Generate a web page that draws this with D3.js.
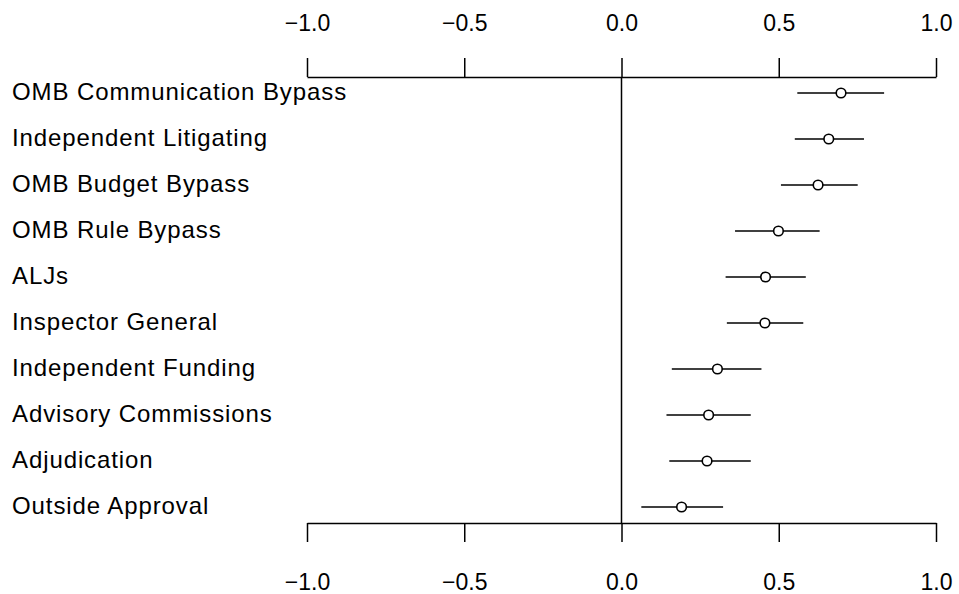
<!DOCTYPE html>
<html>
<head>
<meta charset="utf-8">
<style>
  body { margin: 0; background: #fff; }
  svg text { font-family: "Liberation Sans", Arial, Helvetica, sans-serif; fill: #000; }
</style>
</head>
<body>
<svg id="chart" width="959" height="594"></svg>
<script src="https://cdn.jsdelivr.net/npm/d3@7/dist/d3.min.js"></script>
<script>

var categories = ["OMB Communication Bypass", "Independent Litigating", "OMB Budget Bypass",
    "OMB Rule Bypass", "ALJs", "Inspector General", "Independent Funding",
    "Advisory Commissions", "Adjudication", "Outside Approval"];
var estimates = [0.698, 0.659, 0.625, 0.499, 0.458, 0.456, 0.305, 0.277, 0.272, 0.191];
var lower = [0.559, 0.551, 0.507, 0.361, 0.331, 0.335, 0.160, 0.143, 0.152, 0.063];
var upper = [0.835, 0.771, 0.751, 0.630, 0.586, 0.578, 0.445, 0.411, 0.411, 0.323];
var tickValues = [-1, -0.5, 0, 0.5, 1];

var svg = d3.select('#chart');

var x = d3.scaleLinear().domain([-1, 1]).range([307, 936]);
var y = d3.scalePoint().domain(categories).range([93, 507]);

var axisTopY = 77, axisBottomY = 523;

var data = categories.map(function(c, i){
    return {name: c, est: estimates[i], lo: lower[i], hi: upper[i]};
});

// reference line at zero
svg.append('line')
    .attr('x1', x(0)).attr('x2', x(0))
    .attr('y1', axisTopY).attr('y2', axisBottomY)
    .style('stroke', 'black')
    .style('stroke-width', 1.5);

var topAxis = svg.append('g')
    .attr('transform', 'translate(0,' + axisTopY + ')')
    .call(d3.axisTop(x).tickValues(tickValues).tickSize(19).tickSizeOuter(0)
        .tickPadding(27).tickFormat(d3.format('.1f')));

var bottomAxis = svg.append('g')
    .attr('transform', 'translate(0,' + axisBottomY + ')')
    .call(d3.axisBottom(x).tickValues(tickValues).tickSize(19).tickSizeOuter(0)
        .tickPadding(48).tickFormat(d3.format('.1f')));
bottomAxis.selectAll('text').attr('dy', '0em');

[topAxis, bottomAxis].forEach(function(ax){
    ax.selectAll('path, line').style('stroke', 'black').style('stroke-width', 1.5);
    ax.selectAll('text')
        .style('font-size', '23px')
        .style('font-family', '"Liberation Sans", Arial, sans-serif')
        .attr('fill', 'black');
});

// row labels
svg.selectAll('.label')
    .data(data)
    .enter().append('text')
    .attr('class', 'label')
    .attr('x', 12)
    .attr('y', function(d){ return y(d.name) + 7; })
    .style('font-size', '24px')
    .style('letter-spacing', '0.9px')
    .text(function(d){ return d.name; });

// intervals
svg.selectAll('.ci')
    .data(data)
    .enter().append('line')
    .attr('class', 'ci')
    .attr('x1', function(d){ return x(d.lo); })
    .attr('x2', function(d){ return x(d.hi); })
    .attr('y1', function(d){ return y(d.name); })
    .attr('y2', function(d){ return y(d.name); })
    .style('stroke', 'black')
    .style('stroke-width', 1.6);

svg.selectAll('.pt')
    .data(data)
    .enter().append('circle')
    .attr('class', 'pt')
    .attr('cx', function(d){ return x(d.est); })
    .attr('cy', function(d){ return y(d.name); })
    .attr('r', 4.8)
    .style('fill', 'white')
    .style('stroke', 'black')
    .style('stroke-width', 1.6);

</script>
</body>
</html>
